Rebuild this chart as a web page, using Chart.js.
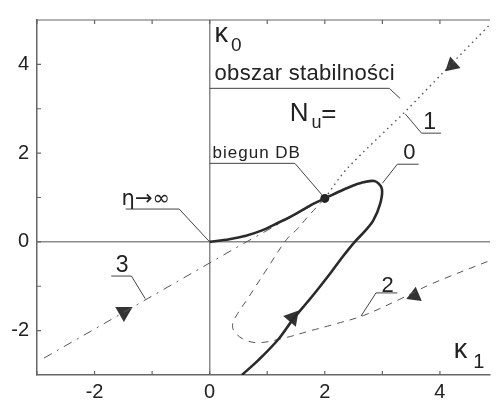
<!DOCTYPE html>
<html>
<head>
<meta charset="utf-8">
<script src="https://cdn.jsdelivr.net/npm/chart.js@4"></script>
<style>html,body{margin:0;background:#fff}</style>
</head>
<body>
<canvas id="myChart" width="500" height="407"></canvas>
<script>
const xTicks = [-2, 0, 2, 4];
const yTicks = [-2, 0, 2, 4];

// curve 0 - solid, stability boundary loop
const c0x = [0, 0.34, 0.63, 0.91, 1.19, 1.48, 1.79, 2.0, 2.33, 2.61, 2.86, 2.99, 2.96, 2.84, 2.68, 2.52, 2.32, 2.10, 1.76, 1.45, 1.19, 0.85, 0.56];
const c0y = [0, 0.06, 0.14, 0.26, 0.43, 0.62, 0.85, 0.98, 1.18, 1.32, 1.37, 1.20, 0.85, 0.48, 0.22, 0, -0.32, -0.70, -1.26, -1.74, -2.2, -2.66, -3.0];
// curve 1 - dotted
const c1x = [2.0, 2.38, 3.40, 4.08, 4.87];
const c1y = [0.98, 1.64, 2.94, 3.85, 4.90];
// curve 2 - dashed
const c2x = [2.0, 1.70, 1.53, 1.34, 0.97, 0.68, 0.46, 0.40, 0.42, 0.57, 0.83, 1.25, 1.76, 2.21, 2.67, 3.29, 3.85, 4.87];
const c2y = [0.98, 0.56, 0.30, 0.06, -0.66, -1.24, -1.67, -1.85, -2.0, -2.18, -2.27, -2.18, -2.0, -1.84, -1.66, -1.30, -0.95, -0.42];
// curve 3 - dash-dot
const c3x = [-2.88, 0.57, 2.0];
const c3y = [-2.62, -0.05, 0.98];
// direction arrows (1, 2, 0, 3)
const arrowX = [4.21, 3.56, 1.44, -1.49];
const arrowY = [3.98, -1.21, -1.71, -1.58];
const arrowRot = [228, 7, 40, 180];
// DB pole
const poleX = [2.0];
const poleY = [0.98];

const pts = (xs, ys) => xs.map((v, i) => ({x: v, y: ys[i]}));

const FONT = 'Arial, "Liberation Sans", sans-serif';
const FONT2 = '"DejaVu Sans", sans-serif';

// text labels: [text, x, y, size, align, letterSpacing, family]
const labels = [
    ['\u03ba', 0.085, 4.5, 27, 'left', 0, FONT],
    ['0', 0.37, 4.31, 19, 'left', 0, FONT],
    ['obszar stabilno\u015bci', 0.085, 3.64, 22, 'left', 0.3, FONT],
    ['N', 1.39, 2.73, 26, 'left', 0, FONT],
    ['u', 1.77, 2.56, 18, 'left', 0, FONT],
    ['=', 1.94, 2.71, 26, 'left', 0, FONT],
    ['1', 3.82, 2.55, 23, 'center', 0, FONT],
    ['0', 3.47, 1.86, 22, 'center', 0, FONT],
    ['biegun DB', 0.05, 1.90, 17, 'left', 1, FONT],
    ['\u03b7\u2192\u221e', -1.53, 0.82, 21, 'left', 0, FONT2],
    ['3', -1.52, -0.67, 23, 'center', 0, FONT],
    ['2', 3.09, -1.13, 22, 'center', 0, FONT],
    ['\u03ba', 4.24, -2.62, 27, 'left', 0, FONT],
    ['1', 4.58, -2.84, 20, 'left', 0, FONT]
];
// underlines + leader lines
const leaders = [
    [[0, 3.46], [3.12, 3.46], [3.31, 3.23]],
    [[4.02, 2.45], [3.68, 2.45], [3.40, 2.88]],
    [[3.63, 1.75], [3.26, 1.75], [3.0, 1.32]],
    [[0, 1.77], [1.48, 1.77], [1.95, 1.06]],
    [[-1.46, 0.74], [-0.53, 0.74], [0, 0]],
    [[-1.71, -0.77], [-1.36, -0.77], [-1.12, -1.28]],
    [[3.26, -1.15], [2.89, -1.15], [2.63, -1.67]]
];

const framePlugin = {
    id: 'frame',
    beforeDatasetsDraw(chart) {
        const {ctx, chartArea: a, scales: {x, y}} = chart;
        ctx.save();
        ctx.strokeStyle = '#666';
        ctx.lineWidth = 1.2;
        ctx.beginPath();
        ctx.moveTo(a.left, a.top);
        ctx.lineTo(a.right, a.top);
        for (let v = Math.ceil(x.min); v <= x.max; v++) {
            const px = x.getPixelForValue(v);
            ctx.moveTo(px, a.bottom); ctx.lineTo(px, a.bottom - 4);
            ctx.moveTo(px, a.top); ctx.lineTo(px, a.top + 4);
        }
        for (let v = Math.ceil(y.min) + 1; v < y.max; v++) {
            const py = y.getPixelForValue(v);
            ctx.moveTo(a.left, py); ctx.lineTo(a.left + 4, py);
        }
        ctx.stroke();
        ctx.restore();
    },
    afterDatasetsDraw(chart) {
        const {ctx, scales: {x, y}} = chart;
        ctx.save();
        ctx.strokeStyle = '#444';
        ctx.lineWidth = 1;
        leaders.forEach(l => {
            ctx.beginPath();
            l.forEach((p, i) => {
                const px = x.getPixelForValue(p[0]), py = y.getPixelForValue(p[1]);
                if (i === 0) ctx.moveTo(px, py); else ctx.lineTo(px, py);
            });
            ctx.stroke();
        });
        ctx.fillStyle = '#222';
        ctx.textBaseline = 'alphabetic';
        labels.forEach(t => {
            ctx.font = t[3] + 'px ' + t[6];
            ctx.textAlign = t[4];
            ctx.letterSpacing = t[5] + 'px';
            ctx.fillText(t[0], x.getPixelForValue(t[1]), y.getPixelForValue(t[2]));
        });
        ctx.restore();
    }
};

const zeroGrid = c => (c.tick && c.tick.value === 0) ? '#8a8a8a' : 'rgba(0,0,0,0)';

new Chart(document.getElementById('myChart').getContext('2d'), {
    type: 'scatter',
    data: {
        datasets: [
            {data: pts(c0x, c0y), showLine: true, borderColor: '#2a2a2a', borderWidth: 2.6, tension: 0.35, pointRadius: 0},
            {data: pts(c1x, c1y), showLine: true, borderColor: '#555', borderWidth: 1.4, borderDash: [1.5, 4], tension: 0.3, pointRadius: 0},
            {data: pts(c2x, c2y), showLine: true, borderColor: '#555', borderWidth: 1, borderDash: [7, 6], tension: 0.4, pointRadius: 0},
            {data: pts(c3x, c3y), showLine: true, borderColor: '#555', borderWidth: 1, borderDash: [9, 6, 2, 6], tension: 0, pointRadius: 0},
            {data: pts(arrowX, arrowY), pointStyle: 'triangle', pointRadius: [9, 9, 9.5, 10], pointRotation: arrowRot,
                backgroundColor: '#333', borderColor: '#333', borderWidth: 0},
            {data: pts(poleX, poleY), pointStyle: 'circle', pointRadius: 4.5, backgroundColor: '#222', borderColor: '#222', borderWidth: 0}
        ]
    },
    options: {
        responsive: false,
        animation: false,
        layout: {padding: {top: 6, right: 0}},
        plugins: {legend: {display: false}, tooltip: {enabled: false}},
        scales: {
            x: {
                min: -3, max: 4.87,
                afterBuildTicks: s => { s.ticks = xTicks.map(v => ({value: v})); },
                afterFit: s => { s.height = 32; },
                ticks: {padding: 5, color: '#222', font: {family: FONT, size: 20}},
                grid: {color: zeroGrid, lineWidth: 1.5, drawTicks: false},
                border: {color: '#666', width: 1.5}
            },
            y: {
                min: -3, max: 5,
                afterBuildTicks: s => { s.ticks = yTicks.map(v => ({value: v})); },
                afterFit: s => { s.width = 37; },
                ticks: {padding: 8, color: '#222', font: {family: FONT, size: 20}},
                grid: {color: zeroGrid, lineWidth: 1.5, drawTicks: false},
                border: {color: '#666', width: 1.5}
            }
        }
    },
    plugins: [framePlugin]
});
</script>
</body>
</html>
